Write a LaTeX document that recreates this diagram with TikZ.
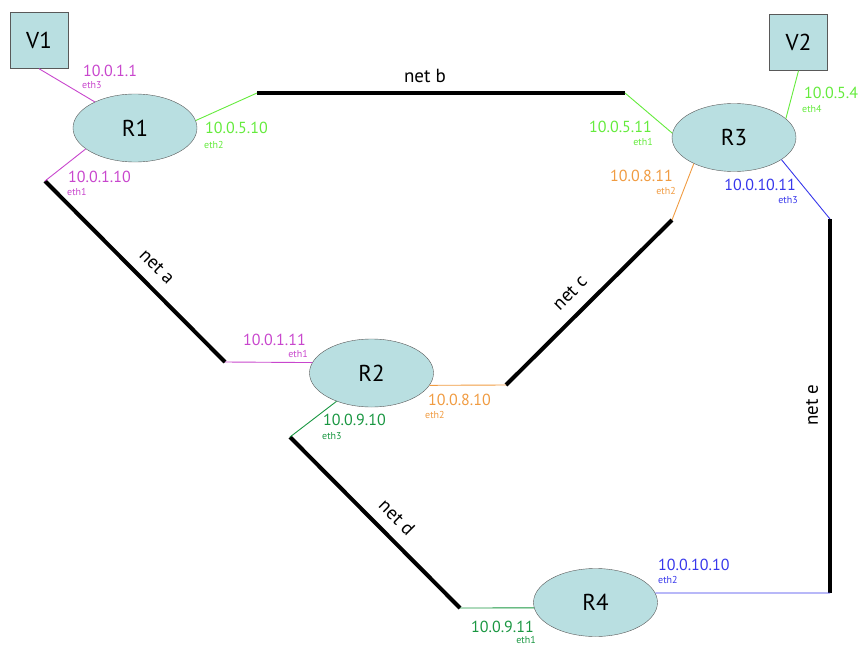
\documentclass[tikz,border=0pt]{standalone}
\usepackage{fontspec}
\setmainfont{PT Sans}
\usetikzlibrary{shapes.geometric}
\definecolor{cmag}{RGB}{200,70,205}
\definecolor{clg}{RGB}{100,235,60}
\definecolor{corg}{RGB}{240,155,65}
\definecolor{cblu}{RGB}{55,55,235}
\definecolor{cdg}{RGB}{25,150,65}
\definecolor{cfill}{RGB}{185,223,225}
\tikzset{
  router/.style={ellipse,draw=black!65,fill=cfill,minimum width=124pt,minimum height=68pt,inner sep=0pt,font=\fontsize{23}{23}\selectfont},
  vbox/.style={rectangle,draw=black!65,fill=cfill,minimum width=58pt,minimum height=56pt,inner sep=0pt,font=\fontsize{23}{23}\selectfont},
  netline/.style={line width=4pt,black},
  link/.style={line width=0.9pt},
  ip/.style={inner sep=0pt,font=\fontsize{16}{16}\selectfont},
  eth/.style={inner sep=0pt,font=\fontsize{10}{10}\selectfont},
  netlbl/.style={inner sep=0pt,font=\fontsize{19}{19}\selectfont},
}
\begin{document}
\begin{tikzpicture}[x=1pt,y=-1pt]
\useasboundingbox (0,0) rectangle (863,648);
% nodes
\node[vbox] (V1) at (39,40.5) {V1};
\node[vbox] (V2) at (798.5,42.5) {V2};
\node[router] (R1) at (135,128) {R1};
\node[router] (R3) at (734,137.5) {R3};
\node[router] (R2) at (371.5,373) {R2};
\node[router] (R4) at (595.5,602.5) {R4};
% net endpoints
\coordinate (b1) at (257,93);
\coordinate (b2) at (625,93);
\coordinate (a1) at (45,181);
\coordinate (a2) at (225,362);
\coordinate (c1) at (672,220);
\coordinate (c2) at (506,385);
\coordinate (d1) at (290,437);
\coordinate (d2) at (460,608);
\coordinate (e1) at (830,219);
\coordinate (e2) at (830,593);
% nets
\draw[netline] (b1) -- (b2);
\draw[netline] (a1) -- (a2);
\draw[netline] (c1) -- (c2);
\draw[netline] (d1) -- (d2);
\draw[netline] (e1) -- (e2);
% links
\draw[link,cmag] (V1.south) -- (R1.147);
\draw[link,clg] (R1.7) -- (b1);
\draw[link,cmag] (R1.203) -- (a1);
\draw[link,clg] (b2) -- (R3.176);
\draw[link,clg] (V2.south) -- (R3.20);
\draw[link,corg] (R3.213) -- (c1);
\draw[link,cblu] (R3.335) -- (e1);
\draw[link,cmag] (a2) -- (R2.170);
\draw[link,corg] (R2.348) -- (c2);
\draw[link,cdg] (R2.219) -- (d1);
\draw[link,cdg] (d2) -- (R4.185);
\draw[link,cblu] (R4.9) -- (e2);
% net labels
\node[netlbl] (lb) at (425,76) {net b};
\node[netlbl,rotate=-45] (la) at (157,267) {net a};
\node[netlbl,rotate=45] (lc) at (570,293) {net c};
\node[netlbl,rotate=-45] (ld) at (397,517) {net d};
\node[netlbl,rotate=90] (le) at (812,405) {net e};
% addresses
\node[ip,cmag,anchor=west] (i1) at (83,71) {10.0.1.1};
\node[eth,cmag,anchor=west] (e1l) at (82,85) {eth3};
\node[ip,clg,anchor=west] (i2) at (205,128) {10.0.5.10};
\node[eth,clg,anchor=west] (e2l) at (204,145) {eth2};
\node[ip,cmag,anchor=west] (i3) at (68,177) {10.0.1.10};
\node[eth,cmag,anchor=west] (e3l) at (67,192) {eth1};
\node[ip,clg,anchor=east] (i4) at (652,127) {10.0.5.11};
\node[eth,clg,anchor=east] (e4l) at (653,142) {eth1};
\node[ip,clg,anchor=west] (i5) at (804,93) {10.0.5.4};
\node[eth,clg,anchor=west] (e5l) at (802,109) {eth4};
\node[ip,corg,anchor=east] (i6) at (673,176) {10.0.8.11};
\node[eth,corg,anchor=east] (e6l) at (676,191) {eth2};
\node[ip,cblu,anchor=east] (i7) at (796,185) {10.0.10.11};
\node[eth,cblu,anchor=east] (e7l) at (798,200) {eth3};
\node[ip,cmag,anchor=east] (i8) at (306,340) {10.0.1.11};
\node[eth,cmag,anchor=east] (e8l) at (308,354) {eth1};
\node[ip,corg,anchor=west] (i9) at (428,400) {10.0.8.10};
\node[eth,corg,anchor=west] (e9l) at (425,415) {eth2};
\node[ip,cdg,anchor=west] (i10) at (323,420) {10.0.9.10};
\node[eth,cdg,anchor=west] (e10l) at (322,436) {eth3};
\node[ip,cdg,anchor=east] (i11) at (534,627) {10.0.9.11};
\node[eth,cdg,anchor=east] (e11l) at (536,640) {eth1};
\node[ip,cblu,anchor=west] (i12) at (658,565) {10.0.10.10};
\node[eth,cblu,anchor=west] (e12l) at (658,580) {eth2};
\end{tikzpicture}
\end{document}
